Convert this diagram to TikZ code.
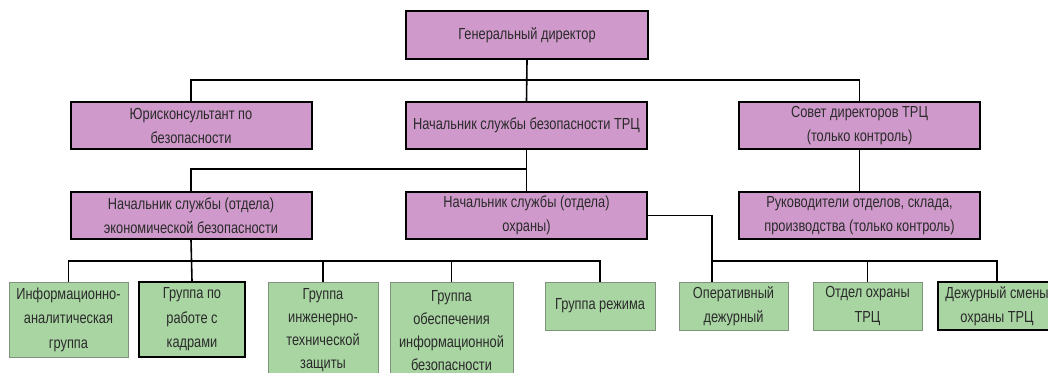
\documentclass[tikz,border=0pt]{standalone}
\usepackage{fontspec}
\setmainfont{Liberation Sans}[FakeStretch=0.8]
\definecolor{pinkfill}{HTML}{CF9ACB}
\definecolor{greenfill}{HTML}{A9D5A3}
\definecolor{greenline}{HTML}{7F937C}
\definecolor{txt}{HTML}{2A2A2A}
\tikzset{
  pinkbox/.style={draw=black, line width=2pt, fill=pinkfill, minimum width=241pt, minimum height=47pt,
    align=center, inner sep=0pt, text=txt, font=\fontsize{16}{24}\selectfont},
  greenbox/.style={draw=greenline, line width=1pt, fill=greenfill, minimum height=48pt,
    align=center, inner sep=0pt, text=txt, font=\fontsize{16}{24.5}\selectfont},
  thickgreen/.style={greenbox, draw=black, line width=2pt},
  tallgreen/.style={greenbox, font=\fontsize{16}{23}\selectfont},
  conn/.style={draw=black, line width=1.6pt},
}
\begin{document}
\begin{tikzpicture}[x=1pt, y=-1pt]
\useasboundingbox (0,0) rectangle (1048,372);
\clip (0,0) rectangle (1048,372);
\fill[white] (0,0) rectangle (1048,372);
\coordinate (bus1) at (527,80);
\coordinate (bus2) at (527,169);
\coordinate (bus3) at (527,261);
% level 1 and 2
\node[pinkbox, minimum width=242pt, minimum height=48pt] (gd) at (527,35) {Генеральный директор};
\node[pinkbox] (jur) at (191,125.5) {Юрисконсультант по\\безопасности};
\node[pinkbox] (nsb) at (526.5,125.5) {Начальник службы безопасности ТРЦ};
\node[pinkbox] (sov) at (859.5,125.5) {Совет директоров ТРЦ\\(только контроль)};
% level 3
\node[pinkbox] (nek) at (191,215.5) {Начальник службы (отдела)\\экономической безопасности};
\node[pinkbox] (nox) at (526.5,215.5) {Начальник службы (отдела)\\охраны)};
\node[pinkbox] (ruk) at (859.5,215.5) {Руководители отделов, склада,\\производства (только контроль)};
% level 4
\node[greenbox, minimum width=119pt, minimum height=75pt] (g1) at (68.5,319.5) {Информационно-\\аналитическая\\группа};
\node[thickgreen, minimum width=106pt, minimum height=75pt] (g2) at (192,319.5) {Группа по\\работе с\\кадрами};
\node[tallgreen, minimum width=110pt, minimum height=97pt] (g3) at (323,330.5) {Группа\\инженерно-\\технической\\защиты};
\node[tallgreen, minimum width=123pt, minimum height=97pt] (g4) at (451.5,330.5) {Группа\\обеспечения\\информационной\\безопасности};
\node[greenbox, minimum width=110pt] (g5) at (600,306) {Группа режима};
\node[greenbox, minimum width=109pt] (g6) at (733.5,306) {Оперативный\\дежурный};
\node[greenbox, minimum width=109pt] (g7) at (867.5,306) {Отдел охраны\\ТРЦ};
\node[thickgreen, minimum width=118pt] (g8) at (997,306) {Дежурный смены\\охраны ТРЦ};
% connectors
\path[conn] (gd.south) -- (nsb.north);
\path[conn] (jur.north) -- (jur.north |- bus1) -- (sov.north |- bus1) -- (sov.north);
\path[conn] (nsb.south) -- (nox.north);
\path[conn] (nek.north) -- (nek.north |- bus2) -- (bus2);
\path[conn] (sov.south) -- (ruk.north);
\path[conn] (nek.south) -- (g2.north);
\path[conn] (g1.north) -- (g1.north |- bus3) -- (g5.north |- bus3) -- (g5.north);
\path[conn] (g3.north) -- (g3.north |- bus3);
\path[conn] (g4.north) -- (g4.north |- bus3);
\path[conn] (nox.east) -| ([xshift=-21.5pt]g6.north);
\path[conn] ([xshift=-21.5pt]g6.north |- bus3) -| (g8.north);
\path[conn] (g7.north) -- (g7.north |- bus3);
\end{tikzpicture}
\end{document}
